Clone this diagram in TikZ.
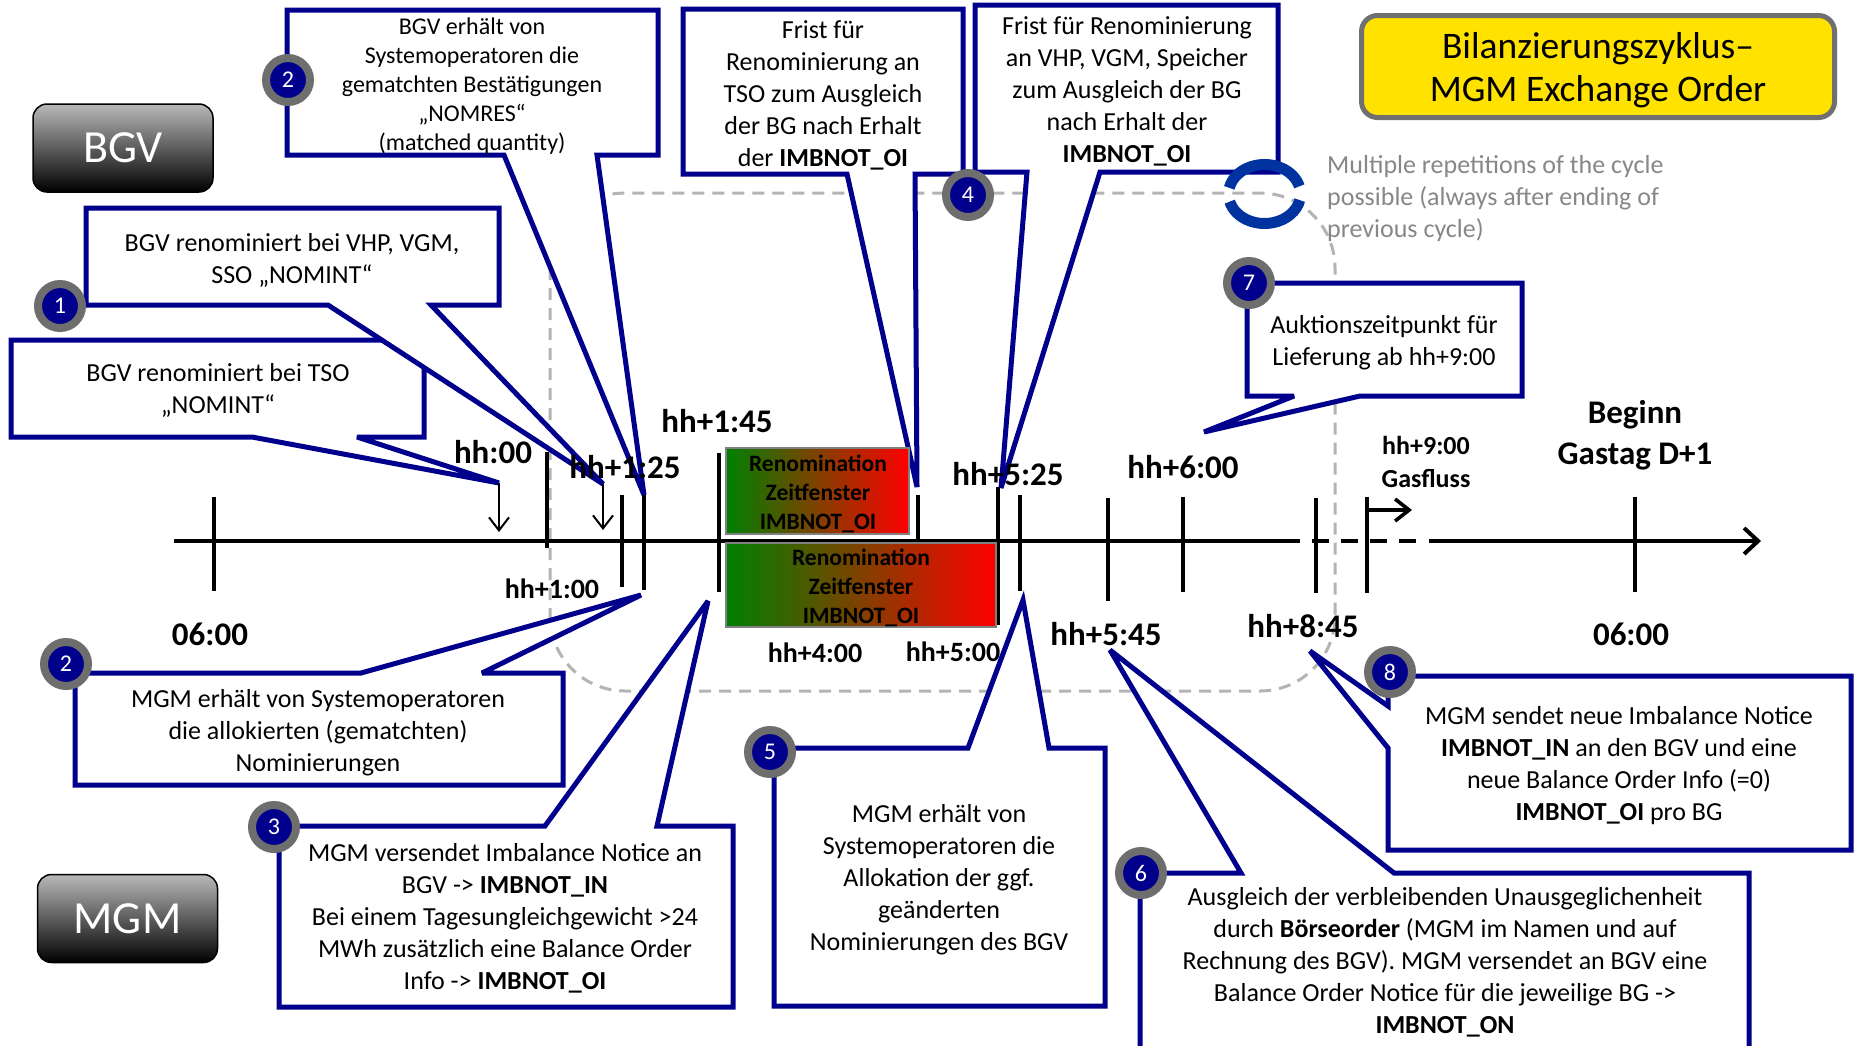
\documentclass[tikz,border=0pt]{standalone}
\usepackage{fontspec}
\setmainfont{Carlito}
\usetikzlibrary{arrows.meta}
\definecolor{navy}{RGB}{0,0,140}
\definecolor{ringgray}{RGB}{110,110,110}
\definecolor{dashgray}{RGB}{180,180,180}
\definecolor{notegray}{RGB}{135,135,135}
\definecolor{cycleblue}{RGB}{0,51,160}
\definecolor{titleyellow}{RGB}{255,226,0}
\definecolor{titleborder}{RGB}{112,112,112}
\definecolor{rgreen}{RGB}{0,128,0}
\definecolor{rred}{RGB}{255,0,0}
\definecolor{rolegray}{RGB}{185,185,185}
\begin{document}
\begin{tikzpicture}[x=1pt,y=-1pt,
  callout/.style={draw=navy, line width=5pt, fill=white, line join=miter, miter limit=4},
  ctext/.style={align=center, font=\fontsize{26}{32}\selectfont, inner sep=0pt},
  ctextsm/.style={align=center, font=\fontsize{24}{29}\selectfont, inner sep=0pt},
  tickline/.style={line width=3.6pt},
  biglbl/.style={font=\bfseries\fontsize{33}{41}\selectfont, inner sep=0pt, align=center},
  smalllbl/.style={font=\bfseries\fontsize{28}{34}\selectfont, inner sep=0pt},
  gaslbl/.style={font=\bfseries\fontsize{26}{33}\selectfont, inner sep=0pt, align=center},
  numc/.style={circle, fill=navy, draw=ringgray, line width=8pt, minimum size=44pt, inner sep=0pt, text=white, font=\fontsize{24}{28}\selectfont},
  rolebox/.style={rounded corners=14pt, draw=black, line width=1.5pt, top color=rolegray, bottom color=black, text=white, font=\fontsize{46}{50}\selectfont, minimum width=180pt, minimum height=88pt, inner sep=0pt},
  renbox/.style={left color=rgreen, right color=rred, draw=gray, line width=2pt},
  rentext/.style={align=center, font=\bfseries\fontsize{23.5}{29}\selectfont, inner sep=0pt},
  downarrow/.style={line width=2pt, -{Straight Barb[length=13pt,width=20pt,line width=2pt]}}
]
\useasboundingbox (0,0) rectangle (1862,1045);
\fill[white] (0,0) rectangle (1862,1045);

% tips of the callouts
\coordinate (tipTSO) at (499,483);
\coordinate (tipOne) at (603,484);
\coordinate (tipTwoT) at (644,495);
\coordinate (tipFTSO) at (917,487);
\coordinate (tipFour) at (1001,488);
\coordinate (tipSeven) at (1204,432);
\coordinate (tipTwoB) at (641,595);
\coordinate (tipThree) at (708,601);
\coordinate (tipFive) at (1023,600);
\coordinate (tipSix) at (1110,650);
\coordinate (tipEight) at (1310,651);

% dashed cycle frame
\draw[dashgray, line width=3pt, dash pattern=on 12pt off 8pt, rounded corners=75pt] (550,193) rectangle (1335,691);

% callouts
\draw[callout] (11,340) -- (424,340) -- (424,437) -- (357,437) -- (tipTSO) -- (252,437) -- (11,437) -- cycle;
\draw[callout] (86,208) -- (499,208) -- (499,305) -- (431,305) -- (tipOne) -- (328,305) -- (86,305) -- cycle;
\draw[callout] (287,10) -- (658,10) -- (658,155) -- (597,155) -- (tipTwoT) -- (504,155) -- (287,155) -- cycle;
\draw[callout] (683,9) -- (963,9) -- (963,174) -- (915,174) -- (tipFTSO) -- (847,174) -- (683,174) -- cycle;
\draw[callout] (975,5) -- (1278,5) -- (1278,172) -- (1100,172) -- (tipFour) -- (1027,172) -- (975,172) -- cycle;
\draw[callout] (1247,283) -- (1522,283) -- (1522,396) -- (1360,396) -- (tipSeven) -- (1294,396) -- (1247,396) -- cycle;
\draw[callout] (75,673) -- (361,673) -- (tipTwoB) -- (482,673) -- (563,673) -- (563,785) -- (75,785) -- cycle;
\draw[callout] (279,826) -- (545,826) -- (tipThree) -- (657,826) -- (733,826) -- (733,1007) -- (279,1007) -- cycle;
\draw[callout] (774,748) -- (968,748) -- (tipFive) -- (1049,748) -- (1105,748) -- (1105,1006) -- (774,1006) -- cycle;
\draw[callout] (1140,873) -- (1241,873) -- (tipSix) -- (1394,873) -- (1749,873) -- (1749,1060) -- (1140,1060) -- cycle;
\draw[callout] (1388,676) -- (1851,676) -- (1851,850) -- (1388,850) -- (1388,748) -- (tipEight) -- (1388,706) -- cycle;

% callout texts
\node[ctext] (tTSO) at (218,390) {BGV renominiert bei TSO\\„NOMINT“};
\node[ctext] (tOne) at (292,260) {BGV renominiert bei VHP, VGM,\\SSO „NOMINT“};
\node[ctextsm] (tTwoT) at (472,86) {BGV erhält von\\Systemoperatoren die\\gematchten Bestätigungen\\„NOMRES“\\(matched quantity)};
\node[ctext] (tFTSO) at (823,95) {Frist für\\Renominierung an\\TSO zum Ausgleich\\der BG nach Erhalt\\der \textbf{IMBNOT\_OI}};
\node[ctext] (tFour) at (1127,91) {Frist für Renominierung\\an VHP, VGM, Speicher\\zum Ausgleich der BG\\nach Erhalt der\\\textbf{IMBNOT\_OI}};
\node[ctext] (tSeven) at (1384,343) {Auktionszeitpunkt für\\Lieferung ab hh+9:00};
\node[ctext] (tTwoB) at (318,733) {MGM erhält von Systemoperatoren\\die allokierten (gematchten)\\Nominierungen};
\node[ctext] (tThree) at (505,918) {MGM versendet Imbalance Notice an\\BGV -> \textbf{IMBNOT\_IN}\\Bei einem Tagesungleichgewicht >24\\MWh zusätzlich eine Balance Order\\Info -> \textbf{IMBNOT\_OI}};
\node[ctext] (tFive) at (939,880) {MGM erhält von\\Systemoperatoren die\\Allokation der ggf.\\geänderten\\Nominierungen des BGV};
\node[ctext] (tSix) at (1445,962) {Ausgleich der verbleibenden Unausgeglichenheit\\durch \textbf{Börseorder} (MGM im Namen und auf\\Rechnung des BGV). MGM versendet an BGV eine\\Balance Order Notice für die jeweilige BG ->\\\textbf{IMBNOT\_ON}};
\node[ctext] (tEight) at (1619,766) {MGM sendet neue Imbalance Notice\\\textbf{IMBNOT\_IN} an den BGV und eine\\neue Balance Order Info (=0)\\\textbf{IMBNOT\_OI} pro BG};

% timeline
\coordinate (tl0) at (174,541);
\coordinate (tlA) at (1300,541);
\coordinate (tlB) at (1312,541);
\coordinate (tlC) at (1418,541);
\coordinate (tlD) at (1429,541);
\coordinate (tlEnd) at (1761,541);
\draw[line width=4pt] (tl0) -- (tlA);
\draw[line width=4pt, dash pattern=on 17pt off 12pt] (tlB) -- (tlC);
\draw[line width=4pt, -{Straight Barb[length=14pt,width=26pt,line width=4pt]}] (tlD) -- (tlEnd);

% ticks
\foreach \x/\a/\b in {214/497/591, 547/452/548, 622/495/587, 644/495/590, 719/453/592, 918/495/539, 998/487/625, 1020/495/591, 1108/498/601, 1183/497/592, 1316/498/593, 1367/497/593, 1635/497/592}
  \draw[tickline] (\x,\a) -- (\x,\b);

% arrows from tips
\coordinate (arrA) at (499,532);
\coordinate (arrB) at (603,530);
\draw[downarrow] (tipTSO) -- (arrA);
\draw[downarrow] (tipOne) -- (arrB);
\coordinate (gasS) at (1367,510);
\coordinate (gasE) at (1412,510);
\draw[line width=3.6pt, -{Straight Barb[length=14pt,width=22pt,line width=3.6pt]}] (gasS) -- (gasE);

% renomination windows
\shadedraw[renbox] (726,448) rectangle (909,534);
\shadedraw[renbox] (726,543) rectangle (996,627);
\node[rentext] (renA) at (818,493.5) {Renomination\\Zeitfenster\\IMBNOT\_OI};
\node[rentext] (renB) at (861,587.5) {Renomination\\Zeitfenster\\IMBNOT\_OI};

% time labels
\node[biglbl] (lhh) at (493,452) {hh:00};
\node[biglbl] (l125) at (625,467) {hh+1:25};
\node[biglbl] (l145) at (717,421) {hh+1:45};
\node[smalllbl] (l100) at (552,589) {hh+1:00};
\node[smalllbl] (l400) at (815,653) {hh+4:00};
\node[smalllbl] (l500) at (953,652) {hh+5:00};
\node[biglbl] (l525) at (1008,474) {hh+5:25};
\node[biglbl] (l545) at (1106,634) {hh+5:45};
\node[biglbl] (l600) at (1183,467) {hh+6:00};
\node[biglbl] (l845) at (1303,626) {hh+8:45};
\node[gaslbl] (l900) at (1426,462) {hh+9:00\\Gasfluss};
\node[biglbl] (lbeg) at (1635,435) {Beginn\\Gastag D+1};
\node[biglbl] (l06a) at (210,634) {06:00};
\node[biglbl] (l06b) at (1631,634) {06:00};

% numbered circles
\node[numc] (c1) at (60,306) {1};
\node[numc] (c2t) at (288,80) {2};
\node[numc] (c4) at (968,195) {4};
\node[numc] (c7) at (1249,283) {7};
\node[numc] (c2b) at (66,664) {2};
\node[numc] (c3) at (274,827) {3};
\node[numc] (c5) at (770,752) {5};
\node[numc] (c6) at (1141,873) {6};
\node[numc] (c8) at (1390,672) {8};

% role boxes
\node[rolebox] (bgv) at (123,148) {BGV};
\node[rolebox] (mgm) at (127.5,918.5) {MGM};

% title
\node[draw=titleborder, line width=5pt, fill=titleyellow, rounded corners=16pt, minimum width=473pt, minimum height=102pt, inner sep=0pt] (titlebox) at (1598,66.5) {};
\node[align=center, font=\fontsize{37.5}{43}\selectfont, inner sep=0pt] (title) at (1598,70) {Bilanzierungszyklus–\\MGM Exchange Order};

% cycle icon and note
\draw[cycleblue, line width=11pt] (1264.5,194) ++(15:36pt and 29.5pt) arc[start angle=15, end angle=168, x radius=36pt, y radius=29.5pt];
\draw[cycleblue, line width=11pt] (1264.5,194) ++(195:36pt and 29.5pt) arc[start angle=195, end angle=348, x radius=36pt, y radius=29.5pt];
\node[anchor=west, align=left, text=notegray, font=\fontsize{26}{32}\selectfont, inner sep=0pt] (note) at (1327,198.5) {Multiple repetitions of the cycle\\possible (always after ending of\\previous cycle)};
\end{tikzpicture}
\end{document}
